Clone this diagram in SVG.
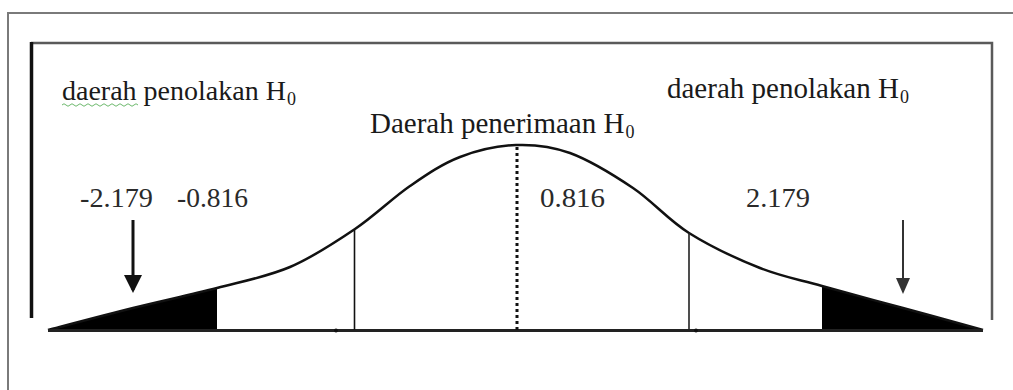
<svg xmlns="http://www.w3.org/2000/svg" width="1013" height="390" viewBox="0 0 1013 390">
<defs>
<style>
.lbl{font-family:"Liberation Serif","Times New Roman",serif;font-size:29px;fill:#1a1a1a}
.sub{font-size:18px}
.num{font-family:"Liberation Serif","Times New Roman",serif;font-size:28px;fill:#2a2a2a}
</style>
<marker id="ahL" markerWidth="6" markerHeight="6" refX="5" refY="3" orient="auto" markerUnits="strokeWidth"><path d="M0,0 L6,3 L0,6 Z" fill="#111"/></marker>
<marker id="ahR" markerWidth="8" markerHeight="7" refX="7" refY="3.5" orient="auto" markerUnits="strokeWidth"><path d="M0,0 L8,3.5 L0,7 Z" fill="#333"/></marker>
</defs>
<rect width="1013" height="390" fill="#fff"/>
<g id="frame">
<path d="M8,390 L8,13 L1013,13" fill="none" stroke="#7a7a7a" stroke-width="2"/>
<path d="M31,43 L992,43 L992,320" fill="none" stroke="#5a5a5a" stroke-width="2.5"/>
<line x1="31.5" y1="42" x2="31.5" y2="318" stroke="#111" stroke-width="3.5"/>
</g>
<g id="tails">
<path d="M48,330 C62.2,326.3 104.8,315 133,308 C161.2,301 190.8,294.8 217,288 L217,331 L48,331 Z" fill="#000"/>
<path d="M822,286 C845.8,292.7 876.2,300.7 903,308 C929.8,315.3 969.7,326.3 983,330 L983,331 L822,331 Z" fill="#000"/>
</g>
<g id="curve">
<path d="M48,330 C62.2,326.3 104.8,315 133,308 C161.2,301 190.8,294.8 217,288 C243.2,281.2 267,276.8 290,267 C313,257.2 335,242.5 355,229 C375,215.5 392.5,198 410,186 C427.5,174 442.3,163.8 460,157 C477.7,150.2 497.7,145.7 516,145 C534.3,144.3 550.5,145.8 570,153 C589.5,160.2 613.2,174.7 633,188 C652.8,201.3 667.8,219.7 689,233 C710.2,246.3 737.8,259.2 760,268 C782.2,276.8 798.2,279.3 822,286 C845.8,292.7 876.2,300.7 903,308 C929.8,315.3 969.7,326.3 983,330" fill="none" stroke="#111" stroke-width="2.5"/>
</g>
<g id="connectors">
<line x1="48" y1="330.5" x2="983" y2="330.5" stroke="#222" stroke-width="3"/>
<circle cx="336" cy="330.5" r="2" fill="#111"/>
<circle cx="696" cy="330.5" r="2" fill="#111"/>
<line x1="517" y1="147" x2="517" y2="330" stroke="#111" stroke-width="3" stroke-dasharray="3 3"/>
<line x1="354.5" y1="230" x2="354.5" y2="330" stroke="#111" stroke-width="1.6"/>
<line x1="689" y1="233" x2="689" y2="330" stroke="#222" stroke-width="1.6"/>
<line x1="133" y1="220" x2="133" y2="290" stroke="#111" stroke-width="3" marker-end="url(#ahL)"/>
<line x1="903" y1="220" x2="903" y2="292" stroke="#333" stroke-width="2" marker-end="url(#ahR)"/>
</g>
<g id="label-left">
<text class="lbl" x="62" y="100" style="font-size:28px">daerah penolakan H<tspan class="sub" dx="1" dy="5">0</tspan></text>
<path d="M62,105 q2,-2.5 4,0 t4,0 t4,0 t4,0 t4,0 t4,0 t4,0 t4,0 t4,0 t4,0 t4,0 t4,0 t4,0 t4,0 t4,0 t4,0 t4,0 t4,0 t4,0" fill="none" stroke="#6cb86c" stroke-width="1"/>
</g>
<g id="label-right">
<text class="lbl" x="667" y="98">daerah penolakan H<tspan class="sub" dx="1" dy="5">0</tspan></text>
</g>
<g id="label-center">
<text class="lbl" x="370" y="133">Daerah penerimaan H<tspan class="sub" dx="1" dy="5">0</tspan></text>
</g>
<g id="numbers">
<text class="num" x="80" y="207" textLength="73" lengthAdjust="spacingAndGlyphs">-2.179</text>
<text class="num" x="177" y="207" textLength="71" lengthAdjust="spacingAndGlyphs">-0.816</text>
<text class="num" x="540" y="207" textLength="65" lengthAdjust="spacingAndGlyphs">0.816</text>
<text class="num" x="746" y="207" textLength="64" lengthAdjust="spacingAndGlyphs">2.179</text>
</g>
</svg>
